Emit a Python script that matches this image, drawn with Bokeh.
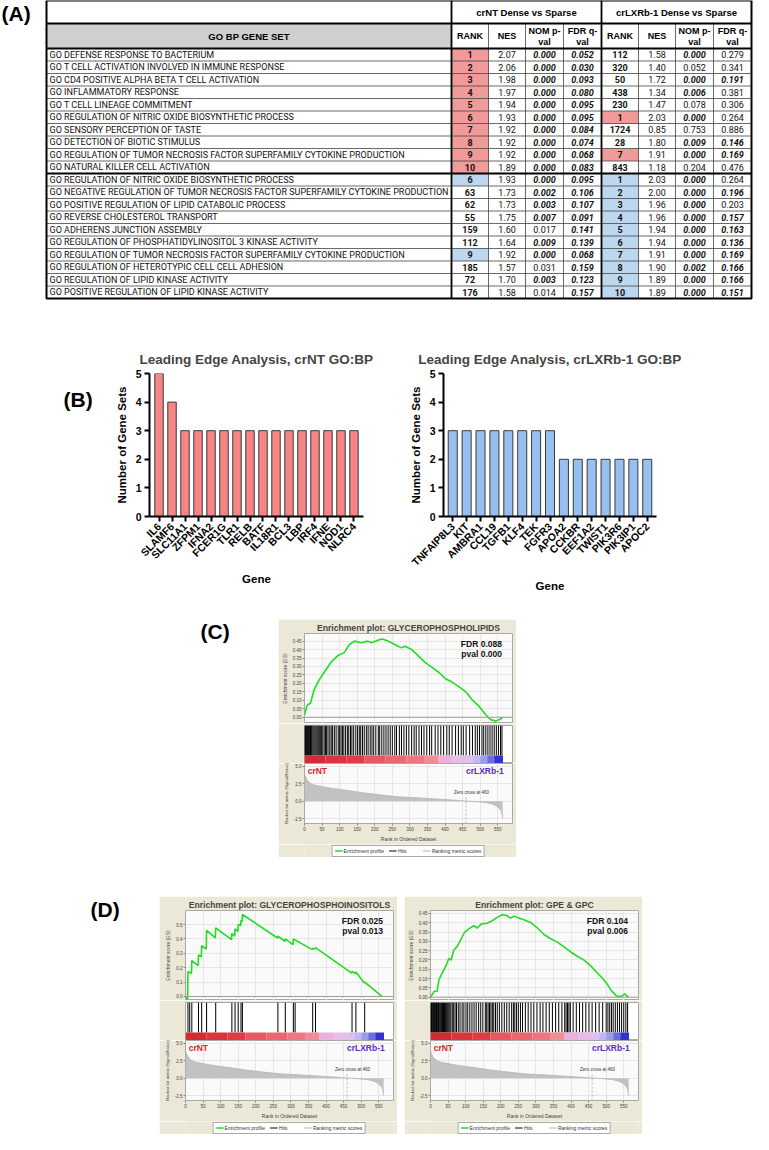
import math
import numpy as np
from bokeh.plotting import figure
from bokeh.layouts import column, row
from bokeh.models import (Range1d, FactorRange, FixedTicker, PrintfTickFormatter,
                          Grid, Legend, LegendItem, Span, Spacer)
from bokeh.core.properties import value
from bokeh.embed import file_html
from bokeh.resources import INLINE

# ---------------------------------------------------------------- data (A)
gene_sets = [
    "GO DEFENSE RESPONSE TO BACTERIUM",
    "GO T CELL ACTIVATION INVOLVED IN IMMUNE RESPONSE",
    "GO CD4 POSITIVE ALPHA BETA T CELL ACTIVATION",
    "GO INFLAMMATORY RESPONSE",
    "GO T CELL LINEAGE COMMITMENT",
    "GO REGULATION OF NITRIC OXIDE BIOSYNTHETIC PROCESS",
    "GO SENSORY PERCEPTION OF TASTE",
    "GO DETECTION OF BIOTIC STIMULUS",
    "GO REGULATION OF TUMOR NECROSIS FACTOR SUPERFAMILY CYTOKINE PRODUCTION",
    "GO NATURAL KILLER CELL ACTIVATION",
    "GO REGULATION OF NITRIC OXIDE BIOSYNTHETIC PROCESS",
    "GO NEGATIVE REGULATION OF TUMOR NECROSIS FACTOR SUPERFAMILY CYTOKINE PRODUCTION",
    "GO POSITIVE REGULATION OF LIPID CATABOLIC PROCESS",
    "GO REVERSE CHOLESTEROL TRANSPORT",
    "GO ADHERENS JUNCTION ASSEMBLY",
    "GO REGULATION OF PHOSPHATIDYLINOSITOL 3 KINASE ACTIVITY",
    "GO REGULATION OF TUMOR NECROSIS FACTOR SUPERFAMILY CYTOKINE PRODUCTION",
    "GO REGULATION OF HETEROTYPIC CELL CELL ADHESION",
    "GO REGULATION OF LIPID KINASE ACTIVITY",
    "GO POSITIVE REGULATION OF LIPID KINASE ACTIVITY",
]
group_names = ["crNT Dense vs Sparse", "crLXRb-1 Dense vs Sparse"]
nt_rank = [1, 2, 3, 4, 5, 6, 7, 8, 9, 10, 6, 63, 62, 55, 159, 112, 9, 185, 72, 176]
nt_nes = [2.07, 2.06, 1.98, 1.97, 1.94, 1.93, 1.92, 1.92, 1.92, 1.89,
          1.93, 1.73, 1.73, 1.75, 1.60, 1.64, 1.92, 1.57, 1.70, 1.58]
nt_pval = [0.000, 0.000, 0.000, 0.000, 0.000, 0.000, 0.000, 0.000, 0.000, 0.000,
           0.000, 0.002, 0.003, 0.007, 0.017, 0.009, 0.000, 0.031, 0.003, 0.014]
nt_fdr = [0.052, 0.030, 0.093, 0.080, 0.095, 0.095, 0.084, 0.074, 0.068, 0.083,
          0.095, 0.106, 0.107, 0.091, 0.141, 0.139, 0.068, 0.159, 0.123, 0.157]
nt_mark = ["red"] * 10 + ["blue", "", "", "", "", "", "blue", "", "", ""]
lx_rank = [112, 320, 50, 438, 230, 1, 1724, 28, 7, 843, 1, 2, 3, 4, 5, 6, 7, 8, 9, 10]
lx_nes = [1.58, 1.40, 1.72, 1.34, 1.47, 2.03, 0.85, 1.80, 1.91, 1.18,
          2.03, 2.00, 1.96, 1.96, 1.94, 1.94, 1.91, 1.90, 1.89, 1.89]
lx_pval = [0.000, 0.052, 0.000, 0.006, 0.078, 0.000, 0.753, 0.009, 0.000, 0.204,
           0.000, 0.000, 0.000, 0.000, 0.000, 0.000, 0.000, 0.002, 0.000, 0.000]
lx_fdr = [0.279, 0.341, 0.191, 0.381, 0.306, 0.264, 0.886, 0.146, 0.169, 0.476,
          0.264, 0.196, 0.203, 0.157, 0.163, 0.136, 0.169, 0.166, 0.166, 0.151]
lx_mark = ["", "", "", "", "", "red", "", "", "red", ""] + ["blue"] * 10
P_SIG, FDR_SIG = 0.01, 0.2

# ---------------------------------------------------------------- data (B)
nt_genes = ["IL6", "SLAMF6", "SLC11A1", "ZFPM1", "IFNA2", "FCER1G", "TLR1", "RELB",
            "BATF", "IL18R1", "BCL3", "LBP", "IRF4", "IFNE", "NOD1", "NLRC4"]
nt_counts = [5, 4, 3, 3, 3, 3, 3, 3, 3, 3, 3, 3, 3, 3, 3, 3]
lx_genes = ["TNFAIP8L3", "KIT", "AMBRA1", "CCL19", "TGFB1", "KLF4", "TEK", "FGFR3",
            "APOA2", "CCKBR", "EEF1A2", "TWIST1", "PIK3R6", "PIK3IP1", "APOC2"]
lx_counts = [3, 3, 3, 3, 3, 3, 3, 3, 2, 2, 2, 2, 2, 2, 2]
bar_y_ticks = [0, 1, 2, 3, 4, 5]

# ---------------------------------------------------------------- data (C, D)
rank_ticks = [0, 50, 100, 150, 200, 250, 300, 350, 400, 450, 500, 550]
metric_ticks = [-2.5, 0.0, 2.5, 5.0]
zero_cross = 460
metric_rank = [0, 2, 8, 17, 30, 50, 75, 100, 140, 171, 220, 267, 320, 363, 410,
               459, 490, 516, 535, 545, 553, 559, 562, 564]
metric_value = [4.0, 3.6, 3.0, 2.55, 2.3, 2.1, 1.87, 1.7, 1.42, 1.19, 0.9, 0.64, 0.5,
                0.37, 0.22, 0.05, -0.05, -0.18, -0.4, -0.63, -0.95, -1.3, -1.8, -2.45]
cbar_edges = [0, 60, 120, 170, 230, 290, 340, 380, 420, 460, 480, 500, 520, 540, 565]
cbar_colors = ["#d42b33", "#dc343c", "#e13c45", "#e85862", "#ec6670", "#ef7680", "#f28c94",
               "#ecb0dc", "#e8bce6", "#dcc0ee", "#c0b8f0", "#9c9cea", "#6c6ce0", "#3232cc"]
legend_labels = ["Enrichment profile", "Hits", "Ranking metric scores"]

c_title = "Enrichment plot: GLYCEROPHOSPHOLIPIDS"
c_es_rank = [0, 8, 17, 27, 41, 56, 75, 94, 113, 128, 142, 161, 180, 190, 209, 221, 238,
             257, 276, 286, 305, 324, 343, 363, 382, 401, 420, 440, 459, 478, 497, 516,
             530, 545, 555, 564]
c_es = [0.015, 0.073, 0.083, 0.16, 0.218, 0.266, 0.324, 0.363, 0.382, 0.43, 0.45, 0.44,
        0.45, 0.44, 0.455, 0.463, 0.45, 0.43, 0.41, 0.42, 0.40, 0.363, 0.324, 0.295,
        0.266, 0.228, 0.208, 0.18, 0.15, 0.102, 0.064, 0.015, -0.014, -0.023, -0.014, 0.0]
c_es_ticks = [0.0, 0.05, 0.10, 0.15, 0.20, 0.25, 0.30, 0.35, 0.40, 0.45]
c_hits = [1, 3, 5, 7, 9, 11, 13, 15, 17, 19, 21, 24, 27, 30, 33, 36, 39, 42, 45, 48, 52,
          56, 60, 63, 67, 72, 76, 80, 85, 90, 96, 100, 104, 108, 112, 117, 122, 126, 131,
          135, 140, 146, 151, 156, 160, 165, 170, 176, 181, 187, 192, 197, 203, 210, 214,
          220, 226, 232, 238, 244, 250, 257, 262, 270, 276, 283, 290, 297, 305, 312, 318,
          326, 333, 340, 348, 356, 362, 372, 380, 388, 396, 405, 412, 420, 430, 438, 446,
          452, 460, 470, 478, 486, 492, 498, 505, 510, 516, 522, 528, 534, 540, 546, 552,
          558, 562]
c_fdr, c_pval = "FDR 0.088", "pval 0.000"

dl_title = "Enrichment plot: GLYCEROPHOSPHOINOSITOLS"
dl_es_rank = [0, 6, 7, 17, 18, 36, 37, 45, 46, 59, 60, 85, 86, 131, 132, 140, 141, 149,
              150, 157, 158, 161, 162, 262, 263, 283, 284, 306, 307, 361, 362, 369, 370,
              473, 474, 484, 485, 509, 510, 559]
dl_es = [0.0, -0.02, 0.175, 0.16, 0.25, 0.214, 0.29, 0.275, 0.353, 0.33, 0.46, 0.407,
         0.477, 0.395, 0.437, 0.42, 0.47, 0.453, 0.50, 0.493, 0.53, 0.52, 0.57, 0.407,
         0.419, 0.384, 0.40, 0.36, 0.40, 0.326, 0.335, 0.33, 0.34, 0.163, 0.175, 0.16,
         0.17, 0.093, 0.10, 0.0]
dl_es_ticks = [0.0, 0.1, 0.2, 0.3, 0.4, 0.5]
dl_hits = [7, 12, 18, 37, 46, 60, 86, 132, 141, 150, 158, 162, 263, 284, 307, 312, 362,
           370, 474, 485, 510]
dl_fdr, dl_pval = "FDR 0.025", "pval 0.013"

dr_title = "Enrichment plot: GPE & GPC"
dr_es_rank = [0, 5, 11, 19, 24, 33, 43, 52, 59, 66, 76, 85, 97, 109, 123, 133, 144, 161,
              176, 190, 204, 217, 228, 237, 252, 266, 285, 304, 323, 342, 361, 380, 399,
              418, 437, 456, 475, 490, 503, 515, 530, 545, 553, 563]
dr_es = [0.0, 0.014, 0.032, 0.032, 0.093, 0.129, 0.164, 0.208, 0.20, 0.252, 0.273, 0.305,
         0.349, 0.367, 0.384, 0.372, 0.393, 0.397, 0.411, 0.429, 0.443, 0.439, 0.425,
         0.436, 0.425, 0.416, 0.402, 0.372, 0.337, 0.314, 0.296, 0.27, 0.243, 0.22,
         0.199, 0.168, 0.13, 0.10, 0.07, 0.035, 0.005, 0.005, 0.018, 0.0]
dr_es_ticks = [0.0, 0.05, 0.10, 0.15, 0.20, 0.25, 0.30, 0.35, 0.40, 0.45]
dr_hits = [1, 3, 5, 7, 9, 11, 13, 15, 17, 19, 21, 23, 25, 28, 31, 34, 37, 40, 43, 46, 49,
           52, 55, 58, 62, 66, 70, 74, 79, 84, 90, 95, 101, 106, 112, 118, 124, 130, 137,
           143, 149, 156, 160, 164, 168, 172, 176, 180, 185, 190, 196, 203, 210, 217, 224,
           231, 236, 240, 245, 250, 256, 262, 270, 278, 286, 294, 303, 312, 320, 329, 338,
           347, 356, 365, 374, 382, 386, 390, 394, 398, 406, 415, 424, 433, 442, 451, 460,
           470, 480, 490, 500, 505, 510, 515, 520, 526, 532, 538, 544, 550, 556, 561]
dr_fdr, dr_pval = "FDR 0.104", "pval 0.006"

# ---------------------------------------------------------------- styles
SANS = "Liberation Sans"
BODY = "Roboto"
TAN = "#ebe8d7"
PANEL = "#fafafa"
EDGE = "#a8a8a8"
GRID = "#e6e6e6"
GREEN = "#22dd22"
RED_CELL, BLUE_CELL = "#f19a9a", "#bdd7ee"
BAR_RED, BAR_BLUE = "#f78585", "#97c0f0"
BOLD = value("bold")


def bare_fig(w, h, x0, y0, fill="white"):
    p = figure(width=w, height=h, x_range=Range1d(x0, x0 + w), y_range=Range1d(y0 + h, y0),
               toolbar_location=None, output_backend="svg",
               x_axis_location=None, y_axis_location=None, min_border=0,
               outline_line_color=None, background_fill_color=fill, border_fill_color=fill)
    p.xgrid.visible = False
    p.ygrid.visible = False
    return p


def panel_label(p, x, y, txt):
    p.text(x=[x], y=[y], text=[txt], text_font=value(SANS), text_font_style=BOLD,
           text_font_size=value("21px"), text_baseline="middle", text_align="left",
           text_color="black")


# ---------------------------------------------------------------- table (A)
TAB = bare_fig(753, 300, 8, 8)
panel_label(TAB, 9, 21, "(A)")
TX0, TX1, GX = 54, 759, 459
edges = [459, 496, 533, 571, 609, 646, 683, 721, 759]
HY0, HY1, HY2 = 8, 31, 56
ROW_H = 12.5
n = len(gene_sets)
row_top = [HY2 + i * ROW_H for i in range(n)]
row_mid = [t + ROW_H / 2 for t in row_top]
TY1 = HY2 + n * ROW_H

TAB.quad(left=[TX0], right=[GX], top=[HY1], bottom=[HY2], fill_color="#cfcfcf", line_color=None)
for marks, c0 in ((nt_mark, 0), (lx_mark, 4)):
    idx = [i for i, m in enumerate(marks) if m]
    TAB.quad(left=[edges[c0]] * len(idx), right=[edges[c0 + 1]] * len(idx),
             top=[row_top[i] for i in idx], bottom=[row_top[i] + ROW_H for i in idx],
             fill_color=[RED_CELL if marks[i] == "red" else BLUE_CELL for i in idx],
             line_color=None)

hy = [row_top[i] for i in range(1, n) if i != 10]
TAB.segment(x0=[TX0] * len(hy), x1=[TX1] * len(hy), y0=hy, y1=hy, line_color="#444444", line_width=0.8)
vx = [edges[k] for k in (1, 2, 3, 5, 6, 7)]
TAB.segment(x0=vx, x1=vx, y0=[HY1] * len(vx), y1=[TY1] * len(vx), line_color="#444444", line_width=0.8)
ty = [HY1, HY2, row_top[10]]
TAB.segment(x0=[TX0] * 3, x1=[TX1] * 3, y0=ty, y1=ty, line_color="black", line_width=1.8)
tvx = [GX, edges[4]]
TAB.segment(x0=tvx, x1=tvx, y0=[HY0] * 2, y1=[TY1] * 2, line_color="black", line_width=1.8)
TAB.quad(left=[TX0], right=[TX1], top=[HY0], bottom=[TY1], fill_color=None,
         line_color="black", line_width=2)

TAB.text(x=[(edges[0] + edges[4]) / 2, (edges[4] + edges[8]) / 2], y=[(HY0 + HY1) / 2] * 2,
         text=group_names, text_font=value(SANS), text_font_style=BOLD,
         text_font_size=value("9.5px"), text_align="center", text_baseline="middle",
         text_color="black")
TAB.text(x=[(TX0 + GX) / 2], y=[(HY1 + HY2) / 2], text=["GO BP GENE SET"], text_font=value(SANS),
         text_font_style=BOLD, text_font_size=value("9.5px"), text_align="center",
         text_baseline="middle", text_color="black")
hxs, hys, hts = [], [], []
hmid = (HY1 + HY2) / 2
for c0 in (0, 4):
    cx = [(edges[c0 + k] + edges[c0 + k + 1]) / 2 for k in range(4)]
    hxs += [cx[0], cx[1], cx[2], cx[2], cx[3], cx[3]]
    hys += [hmid, hmid, hmid - 5, hmid + 5.5, hmid - 5, hmid + 5.5]
    hts += ["RANK", "NES", "NOM p-", "val", "FDR q-", "val"]
TAB.text(x=hxs, y=hys, text=hts, text_font=value(SANS), text_font_style=BOLD,
         text_font_size=value("9px"), text_align="center", text_baseline="middle",
         text_color="black")

TAB.text(x=[TX0 + 3] * n, y=row_mid, text=gene_sets, text_font=value(BODY),
         text_font_size=value("9px"), text_align="left", text_baseline="middle",
         text_color="#111111")
cells = {"bold": ([], [], []), "normal": ([], [], []), "bold italic": ([], [], [])}
for (rk, nes, pv, fd), c0 in (((nt_rank, nt_nes, nt_pval, nt_fdr), 0),
                              ((lx_rank, lx_nes, lx_pval, lx_fdr), 4)):
    cx = [(edges[c0 + k] + edges[c0 + k + 1]) / 2 for k in range(4)]
    for i in range(n):
        for style, xx, txt in (("bold", cx[0], str(rk[i])),
                               ("normal", cx[1], "%.2f" % nes[i]),
                               ("bold italic" if pv[i] < P_SIG else "normal", cx[2], "%.3f" % pv[i]),
                               ("bold italic" if fd[i] < FDR_SIG else "normal", cx[3], "%.3f" % fd[i])):
            cells[style][0].append(xx)
            cells[style][1].append(row_mid[i])
            cells[style][2].append(txt)
for style, (xs, ys, ts) in cells.items():
    TAB.text(x=xs, y=ys, text=ts, text_font=value(BODY), text_font_style=value(style),
             text_font_size=value("9px"), text_align="center", text_baseline="middle",
             text_color="#111111")


# ---------------------------------------------------------------- bar charts (B)
def bar_chart(genes, counts, color, title, width, left, right, pad):
    p = figure(width=width, height=319, x_range=FactorRange(factors=genes, range_padding=pad),
               y_range=Range1d(0, 5), min_border_left=left, min_border_right=right,
               min_border_top=73, min_border_bottom=103, toolbar_location=None,
               output_backend="svg", outline_line_color=None)
    p.vbar(x=genes, top=counts, width=0.65, fill_color=color, line_color="#3a3a3a", line_width=1)
    p.title.text = title
    p.title.text_font = SANS
    p.title.text_font_size = "13.5px"
    p.title.text_font_style = "bold"
    p.title.align = "center"
    p.title.standoff = 14
    p.xgrid.visible = False
    p.ygrid.visible = False
    for ax in (p.xaxis, p.yaxis):
        ax.axis_line_width = 2
        ax.major_tick_line_width = 2
        ax.major_tick_out = 5
        ax.major_tick_in = 0
        ax.minor_tick_line_color = None
        ax.major_label_text_font = SANS
        ax.major_label_text_font_style = "bold"
        ax.major_label_text_font_size = "10.5px"
        ax.major_label_text_color = "black"
        ax.axis_label_text_font = SANS
        ax.axis_label_text_font_style = "bold"
        ax.axis_label_text_font_size = "11.5px"
        ax.axis_label_text_color = "black"
        ax.major_label_standoff = 3
        ax.axis_label_standoff = 5
    p.yaxis.ticker = FixedTicker(ticks=bar_y_ticks)
    p.yaxis.axis_label = "Number of Gene Sets"
    p.xaxis.axis_label = "Gene"
    p.xaxis.major_label_orientation = math.pi / 4
    return p


labB = bare_fig(100, 319, 8, 308)
panel_label(labB, 71, 367, "(B)")
BL = bar_chart(nt_genes, nt_counts, BAR_RED, "Leading Edge Analysis, crNT GO:BP", 292, 49, 29, 0.029)
BR = bar_chart(lx_genes, lx_counts, BAR_BLUE, "Leading Edge Analysis, crLXRb-1 GO:BP", 361, 51, 97, 0.022)


# ---------------------------------------------------------------- GSEA boxes (C, D)
def tiny_axis(ax, label, label_size="5px"):
    ax.axis_label = label
    ax.axis_label_text_font_size = label_size
    ax.axis_label_text_font_style = "normal"
    ax.axis_label_text_font = SANS
    ax.axis_label_text_color = "#444444"
    ax.axis_label_standoff = 2
    ax.major_label_text_font_size = "4.5px"
    ax.major_label_text_font = SANS
    ax.major_label_text_color = "#444444"
    ax.major_label_standoff = 1
    ax.axis_line_color = None
    ax.major_tick_out = 2
    ax.major_tick_in = 0
    ax.major_tick_line_color = "#888888"
    ax.minor_tick_line_color = None


def gsea_box(title, es_rank, es_val, es_range, es_ticks, es_fmt, hits, fdr_txt, pval_txt):
    xr = Range1d(0, 592)
    base = dict(width=238, x_range=xr, toolbar_location=None, output_backend="svg",
                border_fill_color=TAN, min_border_left=26, min_border_right=4)
    # enrichment score
    pe = figure(height=104, y_range=Range1d(*es_range), min_border_top=13, min_border_bottom=0,
                x_axis_location=None, background_fill_color=PANEL, outline_line_color=EDGE, **base)
    pe.title.text = title
    pe.title.text_font = SANS
    pe.title.text_font_size = "8.6px"
    pe.title.text_font_style = "bold"
    pe.title.align = "center"
    pe.title.standoff = 2
    pe.title.offset = -11
    pe.xgrid.visible = False
    pe.add_layout(Grid(dimension=0, ticker=FixedTicker(ticks=rank_ticks), grid_line_color=GRID))
    pe.ygrid.grid_line_color = GRID
    pe.yaxis.ticker = FixedTicker(ticks=es_ticks)
    pe.yaxis.formatter = PrintfTickFormatter(format=es_fmt)
    tiny_axis(pe.yaxis[0], "Enrichment score (ES)")
    pe.add_layout(Span(location=0, dimension="width", line_color="#9c9c9c", line_width=1))
    pe.line(es_rank, es_val, line_color=GREEN, line_width=1.6)
    lo, hi = es_range
    pe.text(x=[562, 562], y=[hi - 0.117 * (hi - lo), hi - 0.23 * (hi - lo)], text=[fdr_txt, pval_txt],
            text_font=value(SANS), text_font_style=BOLD, text_font_size=value("8.5px"),
            text_align="right", text_baseline="middle", text_color="#111111")
    # hits + colour bar
    ph = figure(height=40, y_range=Range1d(0, 38), min_border_top=2, min_border_bottom=0,
                x_axis_location=None, y_axis_location=None, background_fill_color="white",
                outline_line_color=EDGE, **base)
    ph.xgrid.visible = False
    ph.ygrid.visible = False
    ph.segment(x0=hits, x1=hits, y0=[8] * len(hits), y1=[38] * len(hits),
               line_color="black", line_width=1)
    ph.quad(left=cbar_edges[:-1], right=cbar_edges[1:], bottom=0, top=8,
            fill_color=cbar_colors, line_color=None)
    # ranked list metric
    r_lo, r_hi = -3.18, 5.41
    pr = figure(height=81, y_range=Range1d(r_lo, r_hi), min_border_top=0, min_border_bottom=18,
                background_fill_color=PANEL, outline_line_color=EDGE, **base)
    pr.xaxis.ticker = FixedTicker(ticks=rank_ticks)
    pr.yaxis.ticker = FixedTicker(ticks=metric_ticks)
    pr.yaxis.formatter = PrintfTickFormatter(format="%.1f")
    tiny_axis(pr.xaxis[0], "Rank in Ordered Dataset")
    tiny_axis(pr.yaxis[0], "Ranked list metric (Signal2Noise)", "4.1px")
    pr.xgrid.grid_line_color = GRID
    pr.ygrid.grid_line_color = GRID
    pr.varea(x=metric_rank, y1=0, y2=metric_value, fill_color="#c2c2c2")
    pr.line(metric_rank, metric_value, line_color="#b4b4b4", line_width=0.8)
    pr.segment(x0=[zero_cross], x1=[zero_cross], y0=[r_lo], y1=[0.75], line_color="#999999",
               line_width=0.7, line_dash="2 2")
    pr.text(x=[zero_cross + 15], y=[1.25], text=["Zero cross at %d" % zero_cross],
            text_font=value(SANS), text_font_size=value("4.5px"), text_align="center",
            text_baseline="middle", text_color="#333333")
    ly = r_hi - 0.13 * (r_hi - r_lo)
    pr.text(x=[9], y=[ly], text=["crNT"], text_font=value(SANS), text_font_style=BOLD,
            text_font_size=value("8.5px"), text_align="left", text_baseline="middle",
            text_color="#e02424")
    pr.text(x=[567], y=[ly], text=["crLXRb-1"], text_font=value(SANS), text_font_style=BOLD,
            text_font_size=value("8.5px"), text_align="right", text_baseline="middle",
            text_color="#5a2dbd")
    # legend strip
    pl = figure(width=238, height=13, x_range=Range1d(0, 1), y_range=Range1d(0, 1),
                toolbar_location=None, output_backend="svg", min_border=0,
                x_axis_location=None, y_axis_location=None, outline_line_color=None,
                background_fill_color=TAN, border_fill_color=TAN)
    pl.xgrid.visible = False
    pl.ygrid.visible = False
    nan = np.array([np.nan])
    items = []
    for lab, col, lw in zip(legend_labels, [GREEN, "black", "#b4b4b4"], [1.5, 1, 1]):
        r = pl.line(x=nan, y=nan, line_color=col, line_width=lw)
        items.append(LegendItem(label=lab, renderers=[r]))
    leg = Legend(items=items, orientation="horizontal", location="center",
                 label_text_font=SANS, label_text_font_size="5px", label_text_color="#333333",
                 label_height=5, label_standoff=1, glyph_height=5, glyph_width=8,
                 spacing=5, padding=2, margin=0, border_line_color="#555555",
                 border_line_width=0.8, background_fill_color="white", background_fill_alpha=1)
    pl.add_layout(leg)
    return column(pe, ph, pr, pl)


labC = bare_fig(278, 277, 8, 627)
panel_label(labC, 208, 639, "(C)")
boxC = gsea_box(c_title, c_es_rank, c_es, (-0.037, 0.495), c_es_ticks, "%.2f", c_hits, c_fdr, c_pval)

labD = bare_fig(159, 238, 8, 904)
panel_label(labD, 98, 917, "(D)")
boxDL = gsea_box(dl_title, dl_es_rank, dl_es, (-0.028, 0.598), dl_es_ticks, "%.1f", dl_hits, dl_fdr, dl_pval)
boxDR = gsea_box(dr_title, dr_es_rank, dr_es, (-0.018, 0.466), dr_es_ticks, "%.2f", dr_hits, dr_fdr, dr_pval)

page = column(
    TAB,
    row(labB, BL, BR),
    row(labC, boxC),
    row(labD, boxDL, Spacer(width=7, height=238), boxDR),
)

open("out.html", "w").write(file_html(page, INLINE))
